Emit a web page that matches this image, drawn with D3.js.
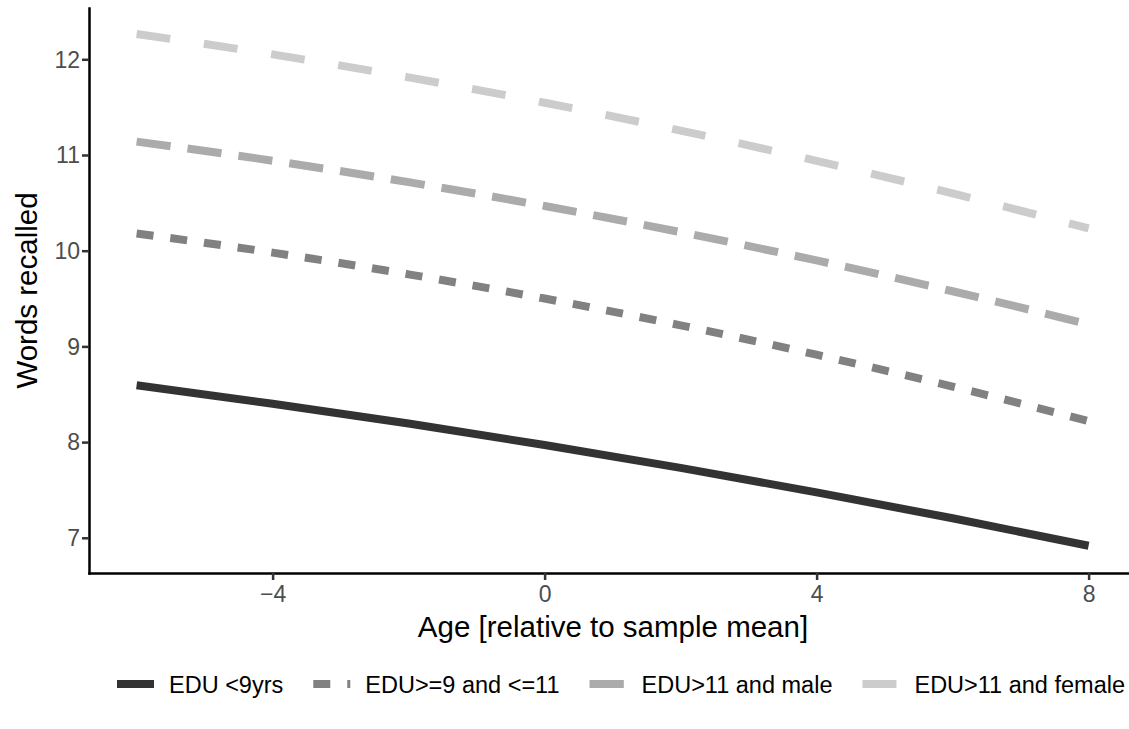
<!DOCTYPE html>
<html><head><meta charset="utf-8">
<script src="https://cdn.jsdelivr.net/npm/d3@7"></script>
<style>
body{margin:0;background:#fff}
svg{display:block}
text{font-family:"Liberation Sans",Arial,Helvetica,sans-serif}
</style>
</head><body>
<svg id="chart" width="1129" height="729"></svg>
<script>
// ---- data ----
const ages = [-6, -4, -2, 0, 2, 4, 6, 8];
const seriesNames = ["EDU <9yrs", "EDU>=9 and <=11", "EDU>11 and male", "EDU>11 and female"];
const eduLow        = [8.594, 8.400, 8.194, 7.970, 7.730, 7.475, 7.204, 6.917];
const eduMid        = [10.180, 9.980, 9.753, 9.500, 9.220, 8.913, 8.580, 8.220];
const eduHighMale   = [11.140, 10.940, 10.716, 10.467, 10.194, 9.898, 9.576, 9.231];
const eduHighFemale = [12.265, 12.051, 11.811, 11.546, 11.255, 10.939, 10.599, 10.232];
const xTickValues = [-4, 0, 4, 8];
const yTickValues = [7, 8, 9, 10, 11, 12];
const xTitle = "Age [relative to sample mean]";
const yTitle = "Words recalled";

// ---- styles ----
const colors = ["#333333", "#818181", "#ababab", "#cccccc"];
const dashes = [null, "17,17", "34.3,17.1", "34,34"];
const lineW = 8;

const svg = d3.select("#chart");
const panel = {left: 89, top: 8, bottom: 573};

const x = d3.scaleLinear().domain([-6.7, 8.7]).range([89, 89 + 15.4 * 68]);
const y = d3.scaleLinear().domain([6.632, 12.536]).range([panel.bottom, panel.top]);

const seriesValues = [eduLow, eduMid, eduHighMale, eduHighFemale];
const series = seriesNames.map((name, i) => ({
  name, color: colors[i], dash: dashes[i],
  points: ages.map((a, j) => ({x: a, y: seriesValues[i][j]}))
}));

const line = d3.line().x(d => x(d.x)).y(d => y(d.y)).curve(d3.curveMonotoneX);

// lines (lightest first, darkest on top)
svg.append("g").selectAll("path").data(series.slice().reverse()).join("path")
  .attr("d", d => line(d.points))
  .attr("fill", "none")
  .attr("stroke", d => d.color)
  .attr("stroke-width", lineW)
  .attr("stroke-linecap", "butt")
  .attr("stroke-linejoin", "round")
  .attr("stroke-dasharray", d => d.dash);

// axes
const gx = svg.append("g").attr("transform", `translate(0,${panel.bottom})`)
  .call(d3.axisBottom(x).tickValues(xTickValues).tickSize(7).tickSizeOuter(0));
const gy = svg.append("g").attr("transform", `translate(${panel.left},0)`)
  .call(d3.axisLeft(y).tickValues(yTickValues).tickFormat(d3.format("d")).tickSize(7).tickSizeOuter(0));

[gx, gy].forEach(g => {
  g.select(".domain").attr("stroke", "#000").attr("stroke-width", 2.5).attr("stroke-linecap", "square");
  g.selectAll(".tick line").attr("stroke", "#333333").attr("stroke-width", 2.5);
  g.selectAll(".tick text").attr("fill", "#4d4d4d").attr("font-size", 23)
    .attr("font-family", '"Liberation Sans",Arial,Helvetica,sans-serif');
});
gx.selectAll(".tick text").attr("dy", null).attr("y", 29);
gy.selectAll(".tick text").attr("x", -9).attr("dy", "0.34em");

// axis titles
svg.append("text").attr("x", 613).attr("y", 637)
  .attr("text-anchor", "middle").attr("font-size", 29.5).attr("fill", "#000").text(xTitle);
svg.append("text").attr("transform", `translate(37,${(panel.top + panel.bottom) / 2}) rotate(-90)`)
  .attr("text-anchor", "middle").attr("font-size", 29.5).attr("fill", "#000").text(yTitle);

// legend
const leg = svg.append("g");
const legY = 684;
let cx = 117;
series.forEach(s => {
  const item = leg.append("g");
  item.append("line").attr("x1", cx).attr("x2", cx + 37).attr("y1", legY).attr("y2", legY)
    .attr("stroke", s.color).attr("stroke-width", lineW).attr("stroke-linecap", "butt")
    .attr("stroke-dasharray", s.dash);
  const t = item.append("text").attr("x", cx + 52).attr("y", legY + 8.5)
    .attr("font-size", 23.5).attr("fill", "#000").text(s.name);
  cx = cx + 52 + t.node().getComputedTextLength() + 30;
});
</script>
</body></html>
